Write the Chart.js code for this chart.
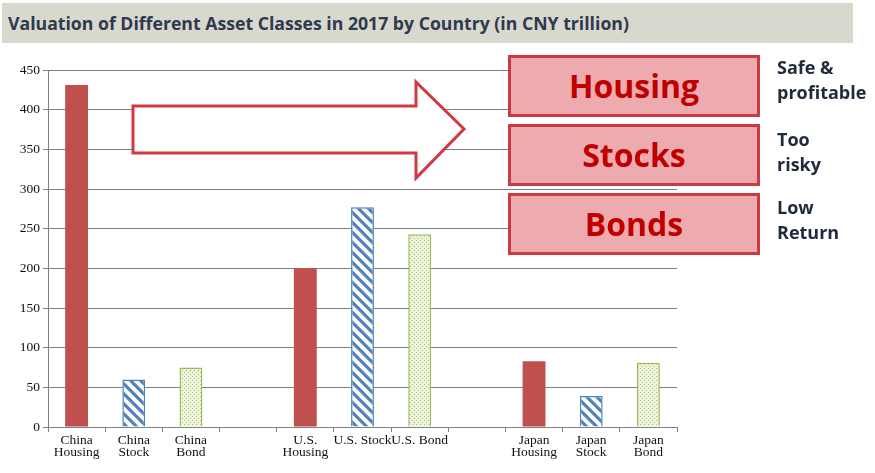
<!DOCTYPE html>
<html>
<head>
<meta charset="utf-8">
<script src="https://cdn.jsdelivr.net/npm/chart.js@4.4.0/dist/chart.umd.min.js"></script>
<style>
  html, body { margin: 0; padding: 0; background: #fff; }
  #wrap { position: relative; width: 875px; height: 473px; overflow: hidden; }
  #chart { position: absolute; left: 0; top: 0; }
  .title-bar {
    position: absolute; left: 2px; top: 3px; width: 851px; height: 40px;
    background: #d8d8ce;
  }
  .title-bar span {
    position: absolute; left: 6px; top: 8px; white-space: nowrap;
    font-family: "Open Sans", sans-serif; font-weight: 700; font-size: 18px;
    color: #2e3a4d; transform-origin: left center; display: inline-block;
  }
  .box {
    position: absolute; left: 508px; width: 252px; height: 62px; box-sizing: border-box;
    border: 3px solid #cc3a43; background: #eeabaf;
    font-family: "Open Sans", sans-serif; font-weight: 700; font-size: 32px;
    color: #c00000; text-align: center; line-height: 56px;
  }
  .note {
    position: absolute; left: 777px; white-space: nowrap;
    font-family: "Open Sans", sans-serif; font-weight: 700; font-size: 18px;
    color: #1f2a3c; line-height: 25px;
  }
  svg { position: absolute; left: 0; top: 0; }
</style>
</head>
<body>
<div id="wrap">
  <canvas id="chart" width="875" height="473"></canvas>
  <div class="title-bar"><span id="title">Valuation of Different Asset Classes in 2017 by Country (in CNY trillion)</span></div>
  <svg width="875" height="473">
    <polygon points="133,106 416,106 416,82 464,129 416,178 416,153 133,153"
             fill="#fff" stroke="#d0393f" stroke-width="3" stroke-linejoin="miter"/>
  </svg>
  <div class="box" style="top:55px">Housing</div>
  <div class="box" style="top:124px">Stocks</div>
  <div class="box" style="top:193px">Bonds</div>
  <div class="note" style="top:55px">Safe &amp;<br>profitable</div>
  <div class="note" style="top:127px">Too<br>risky</div>
  <div class="note" style="top:195px">Low<br>Return</div>
</div>
<script>
// Categories (empty strings are the gaps between countries)
const categories = [
  ['China', 'Housing'], ['China', 'Stock'], ['China', 'Bond'], '',
  ['U.S.', 'Housing'], 'U.S. Stock', 'U.S. Bond', '',
  ['Japan', 'Housing'], ['Japan', 'Stock'], ['Japan', 'Bond']
];
const assetType = ['housing', 'stock', 'bond', null, 'housing', 'stock', 'bond', null, 'housing', 'stock', 'bond'];
const values = [431, 60, 75, null, 200, 277, 243, null, 83, 39, 81];
const yTicks = { min: 0, max: 450, step: 50 };

// Fill patterns for stock (blue stripes) and bond (green dots)
function stripePattern() {
  const c = document.createElement('canvas');
  c.width = 10; c.height = 10;
  const g = c.getContext('2d');
  g.fillStyle = '#fff';
  g.fillRect(0, 0, 10, 10);
  g.strokeStyle = '#4f81bd';
  g.lineWidth = 3.2;
  g.beginPath();
  g.moveTo(-3, -3); g.lineTo(13, 13);
  g.moveTo(-3, 7); g.lineTo(3, 13);
  g.moveTo(7, -3); g.lineTo(13, 3);
  g.stroke();
  return g.createPattern(c, 'repeat');
}
function dotPattern() {
  const c = document.createElement('canvas');
  c.width = 4; c.height = 4;
  const g = c.getContext('2d');
  g.fillStyle = '#eef4dc';
  g.fillRect(0, 0, 4, 4);
  g.fillStyle = '#a9c472';
  g.fillRect(0, 0, 1, 1);
  g.fillRect(2, 2, 1, 1);
  return g.createPattern(c, 'repeat');
}

const fills = { housing: '#c0504d', stock: stripePattern(), bond: dotPattern() };
const borders = { housing: '#c0504d', stock: '#4f81bd', bond: '#9bbb59' };

const axisFont = { family: '"Liberation Serif", "Times New Roman", serif', size: 13.5 };

new Chart(document.getElementById('chart'), {
  type: 'bar',
  data: {
    labels: categories,
    datasets: [{
      data: values,
      backgroundColor: assetType.map(t => t ? fills[t] : 'transparent'),
      borderColor: assetType.map(t => t ? borders[t] : 'transparent'),
      borderWidth: assetType.map(t => t === 'housing' ? 0 : 1.5),
      categoryPercentage: 1,
      barPercentage: 0.4
    }]
  },
  options: {
    responsive: false,
    animation: false,
    layout: { padding: { left: 0, top: 70, right: 198, bottom: 6 } },
    plugins: { legend: { display: false }, tooltip: { enabled: false } },
    scales: {
      x: {
        afterFit: s => { s.height = 40; },
        grid: { drawOnChartArea: false, tickLength: 5, color: '#808080', offset: true },
        border: { color: '#808080' },
        ticks: {
          font: Object.assign({}, axisFont, { lineHeight: 0.92 }),
          color: '#111', padding: 2, maxRotation: 0, autoSkip: false
        }
      },
      y: {
        min: yTicks.min,
        max: yTicks.max,
        afterFit: s => { s.width = 48; },
        grid: { color: '#808080', tickLength: 5 },
        border: { color: '#808080' },
        ticks: { stepSize: yTicks.step, font: axisFont, color: '#111', padding: 3 }
      }
    }
  }
});

// squeeze the title to the narrow width of the original font
const t = document.getElementById('title');
t.style.transform = 'scaleX(' + (621 / t.offsetWidth) + ')';
</script>
</body>
</html>
